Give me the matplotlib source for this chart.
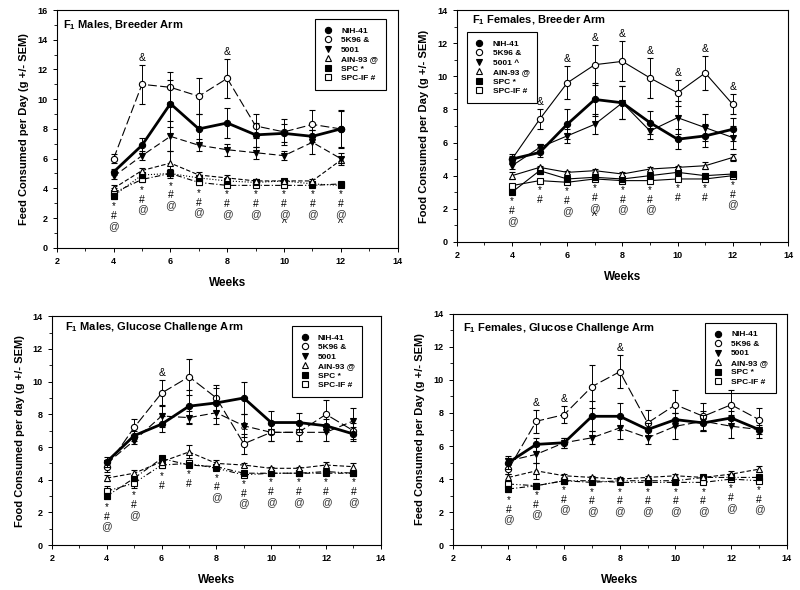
import matplotlib.pyplot as plt
import numpy as np
from matplotlib.lines import Line2D

plt.rcParams['font.family'] = ['Liberation Sans', 'DejaVu Sans']
plt.rcParams['font.weight'] = 'bold'
plt.rcParams['mathtext.fontset'] = 'custom'
plt.rcParams['mathtext.rm'] = 'Liberation Sans:bold'
plt.rcParams['mathtext.bf'] = 'Liberation Sans:bold'

# ---- F1 males, breeder arm (weeks 4-12) ----
mb_weeks = [4, 5, 6, 7, 8, 9, 10, 11, 12]
mb_nih = [5.1, 6.9, 9.7, 8.0, 8.4, 7.6, 7.7, 7.5, 8.0]
mb_nih_se = [0.2, 0.5, 1.6, 1.0, 1.0, 0.8, 0.6, 0.4, 1.2]
mb_k96 = [6.0, 11.0, 10.8, 10.2, 11.4, 8.2, 7.8, 8.3, 8.0]
mb_k96_se = [0.3, 1.3, 1.0, 1.2, 1.3, 0.8, 0.9, 1.0, 1.3]
mb_5001 = [4.8, 6.2, 7.5, 6.9, 6.6, 6.4, 6.2, 7.1, 6.0]
mb_5001_se = [0.2, 0.3, 1.0, 0.4, 0.4, 0.4, 0.3, 0.8, 0.4]
mb_ain = [4.0, 5.2, 5.7, 4.9, 4.7, 4.5, 4.5, 4.5, 5.9]
mb_ain_se = [0.2, 0.2, 0.8, 0.2, 0.2, 0.1, 0.1, 0.1, 0.2]
mb_spc = [3.5, 4.9, 5.0, 4.7, 4.5, 4.4, 4.5, 4.3, 4.2]
mb_spc_se = [0.2, 0.2, 0.2, 0.2, 0.1, 0.1, 0.1, 0.1, 0.1]
mb_spcif = [3.7, 4.6, 5.0, 4.4, 4.2, 4.2, 4.2, 4.2, 4.3]
mb_spcif_se = [0.3, 0.2, 0.3, 0.2, 0.1, 0.1, 0.1, 0.1, 0.1]
mb_marks = ['*#@', '*#@', '*#@', '*#@', '*#@', '*#@', '*#@^', '*#@', '*#@^']
mb_amp = [5, 8]

# ---- F1 females, breeder arm (weeks 4-12) ----
fb_weeks = [4, 5, 6, 7, 8, 9, 10, 11, 12]
fb_nih = [5.0, 5.4, 7.1, 8.6, 8.4, 7.2, 6.2, 6.4, 6.8]
fb_nih_se = [0.2, 0.3, 0.9, 1.0, 1.0, 0.7, 0.6, 0.7, 0.7]
fb_k96 = [5.0, 7.4, 9.6, 10.7, 10.9, 9.9, 9.0, 10.2, 8.3]
fb_k96_se = [0.3, 0.6, 1.0, 1.2, 1.2, 1.2, 0.8, 1.0, 0.6]
fb_5001 = [4.6, 5.7, 6.4, 7.1, 8.4, 6.7, 7.5, 6.9, 6.3]
fb_5001_se = [0.2, 0.2, 0.4, 0.6, 1.0, 0.5, 1.0, 0.8, 0.7]
fb_ain = [4.0, 4.5, 4.2, 4.3, 4.1, 4.4, 4.5, 4.6, 5.1]
fb_ain_se = [0.2, 0.1, 0.1, 0.1, 0.1, 0.1, 0.1, 0.2, 0.2]
fb_spc = [3.0, 4.3, 3.8, 3.9, 3.8, 4.0, 4.2, 4.0, 4.1]
fb_spc_se = [0.1, 0.2, 0.1, 0.1, 0.1, 0.1, 0.1, 0.1, 0.1]
fb_spcif = [3.4, 3.7, 3.6, 3.8, 3.7, 3.7, 3.8, 3.8, 4.0]
fb_spcif_se = [0.1, 0.1, 0.1, 0.1, 0.1, 0.1, 0.1, 0.1, 0.1]
fb_marks = ['*#@', '*#', '*#@', '*#@^', '*#@', '*#@', '*#', '*#', '*#@']
fb_amp = [5, 6, 7, 8, 9, 10, 11, 12]

# ---- F1 males, glucose challenge arm (weeks 4-13) ----
mg_weeks = [4, 5, 6, 7, 8, 9, 10, 11, 12, 13]
mg_nih = [5.1, 6.7, 7.4, 8.5, 8.7, 9.0, 7.5, 7.5, 7.3, 6.8]
mg_nih_se = [0.3, 0.3, 0.5, 1.0, 0.9, 1.0, 0.7, 0.6, 0.4, 0.4]
mg_k96 = [4.8, 7.2, 9.3, 10.3, 9.0, 6.2, 6.9, 6.9, 8.0, 7.0]
mg_k96_se = [0.3, 0.5, 0.8, 1.1, 0.8, 0.6, 0.5, 0.5, 0.9, 0.5]
mg_5001 = [5.0, 6.4, 7.9, 7.8, 8.1, 7.3, 6.9, 6.9, 6.9, 7.6]
mg_5001_se = [0.2, 0.2, 0.7, 0.4, 0.7, 0.7, 0.5, 0.5, 0.5, 0.8]
mg_ain = [4.1, 4.4, 5.1, 5.7, 5.0, 4.9, 4.7, 4.7, 4.9, 4.8]
mg_ain_se = [0.2, 0.2, 0.2, 0.4, 0.2, 0.1, 0.1, 0.1, 0.2, 0.2]
mg_spc = [3.0, 4.1, 5.3, 4.9, 4.8, 4.4, 4.4, 4.4, 4.4, 4.4]
mg_spc_se = [0.2, 0.2, 0.1, 0.1, 0.1, 0.1, 0.1, 0.1, 0.1, 0.1]
mg_spcif = [3.3, 3.8, 4.9, 5.0, 4.7, 4.3, 4.4, 4.4, 4.5, 4.4]
mg_spcif_se = [0.3, 0.3, 0.2, 0.2, 0.1, 0.1, 0.1, 0.1, 0.1, 0.1]
mg_marks = ['*#@', '*#@', '*#', '*#', '*#@', '*#@', '*#@', '*#@', '*#@', '*#@']
mg_amp = [6, 9]

# ---- F1 females, glucose challenge arm (weeks 4-13) ----
fg_weeks = [4, 5, 6, 7, 8, 9, 10, 11, 12, 13]
fg_nih = [5.0, 6.1, 6.2, 7.8, 7.8, 7.0, 7.6, 7.4, 7.7, 7.0]
fg_nih_se = [0.4, 0.4, 0.3, 0.9, 0.8, 0.4, 0.4, 0.5, 0.4, 0.3]
fg_k96 = [4.6, 7.5, 7.9, 9.6, 10.5, 7.4, 8.5, 7.8, 8.5, 7.6]
fg_k96_se = [0.3, 0.7, 0.5, 1.3, 1.0, 0.8, 0.9, 0.8, 0.9, 0.7]
fg_5001 = [5.1, 5.5, 6.2, 6.5, 7.1, 6.5, 7.2, 7.5, 7.2, 7.0]
fg_5001_se = [0.2, 0.5, 0.3, 0.4, 0.7, 0.4, 0.8, 0.6, 0.7, 0.5]
fg_ain = [4.1, 4.5, 4.2, 4.1, 4.0, 4.1, 4.2, 4.1, 4.3, 4.6]
fg_ain_se = [0.2, 0.5, 0.1, 0.1, 0.1, 0.1, 0.1, 0.1, 0.2, 0.2]
fg_spc = [3.4, 3.6, 3.9, 3.8, 3.9, 3.9, 3.9, 4.1, 4.1, 4.1]
fg_spc_se = [0.2, 0.1, 0.1, 0.1, 0.1, 0.1, 0.1, 0.1, 0.1, 0.1]
fg_spcif = [3.7, 3.6, 3.9, 3.9, 3.8, 3.8, 3.8, 3.8, 4.0, 3.9]
fg_spcif_se = [0.2, 0.1, 0.1, 0.1, 0.1, 0.1, 0.1, 0.1, 0.1, 0.1]
fg_marks = ['*#@'] * 10
fg_amp = [5, 6, 8]

diet_labels = ['NIH-41', '5K96 &', '5001', 'AIN-93 @', 'SPC *', 'SPC-IF #']
markers = ['o', 'o', 'v', '^', 's', 's']
faces = ['black', 'white', 'black', 'white', 'black', 'white']

dashed_styles = ['-', (0, (8, 3)), (0, (6, 3)), (0, (4, 2)), ':', (0, (5, 2, 1, 2))]
glucose_styles = ['-', (0, (9, 3)), (0, (7, 3)), (0, (4, 2)), (0, (5, 2, 1, 2)), (0, (5, 2, 1, 2, 1, 2))]
solid_styles = ['-'] * 6


def panel(ax, weeks, series, errs, styles, title, ylabel, ymax, labels, marks, amp,
          leg_loc, leg_anchor, title_xy):
    weeks = np.array(weeks)
    for i, (y, e) in enumerate(zip(series, errs)):
        ax.errorbar(weeks, y, yerr=e, color='black', ls=styles[i],
                    lw=2.0 if i == 0 else 0.8, marker=markers[i], mfc=faces[i],
                    mec='black', mew=0.8, ms=4.5, capsize=2.5, elinewidth=0.7,
                    capthick=0.7, zorder=3 + (6 - i))
    lows = np.min(np.array(series) - np.array(errs), axis=0)
    for w, lo, m in zip(weeks, lows, marks):
        for j, ch in enumerate(m):
            ax.annotate(ch, (w, lo), xytext=(0, -5.5 - 7 * j), textcoords='offset points',
                        ha='center', va='center', fontsize=7.5 if ch != '*' else 7,
                        fontweight='normal', color='#333333' if ch == '@' else 'black')
    k96 = np.array(series[1]) + np.array(errs[1])
    for w in amp:
        idx = list(weeks).index(w)
        ax.annotate('&', (w, k96[idx]), xytext=(0, 1.5), textcoords='offset points',
                    ha='center', va='bottom', fontsize=7.5, fontweight='normal')

    ax.set_xlim(2, 14)
    ax.set_ylim(0, ymax)
    ax.set_xticks(np.arange(2, 15, 2))
    ax.set_yticks(np.arange(0, ymax + 1, 2))
    ax.set_xticks(np.arange(3, 14, 2), minor=True)
    ax.set_yticks(np.arange(1, ymax, 2), minor=True)
    ax.tick_params(which='major', direction='out', length=3, width=0.7, labelsize=6.5)
    ax.tick_params(which='minor', direction='out', length=2, width=0.6)
    for s in ax.spines.values():
        s.set_linewidth(0.8)
    ax.set_xlabel('Weeks', fontsize=8.5, fontweight='bold', labelpad=8)
    ax.set_ylabel(ylabel, fontsize=8, fontweight='bold', labelpad=6)
    ax.text(title_xy[0], title_xy[1], title, transform=ax.transAxes, fontsize=8,
            fontweight='bold', ha='left', va='center')

    handles = [Line2D([], [], ls='none', marker=markers[i], mfc=faces[i], mec='black',
                      mew=0.8, ms=4.5) for i in range(6)]
    leg = ax.legend(handles, labels, loc=leg_loc, bbox_to_anchor=leg_anchor,
                    fancybox=False, edgecolor='black', framealpha=1,
                    prop={'size': 6, 'weight': 'bold'}, handlelength=1.2,
                    handletextpad=1.0, borderpad=0.9, labelspacing=0.2)
    leg.get_frame().set_linewidth(0.8)


fig = plt.figure(figsize=(8, 5.9), dpi=100)

ax1 = fig.add_axes([0.071, 0.580, 0.426, 0.403])
panel(ax1, mb_weeks,
      [mb_nih, mb_k96, mb_5001, mb_ain, mb_spc, mb_spcif],
      [mb_nih_se, mb_k96_se, mb_5001_se, mb_ain_se, mb_spc_se, mb_spcif_se],
      dashed_styles, r'F$_1$ Males, Breeder Arm', 'Feed Consumed per Day (g +/- SEM)',
      16, diet_labels, mb_marks, mb_amp, 'upper right', (0.977, 0.979), (0.018, 0.937))

ax2 = fig.add_axes([0.571, 0.590, 0.414, 0.393])
panel(ax2, fb_weeks,
      [fb_nih, fb_k96, fb_5001, fb_ain, fb_spc, fb_spcif],
      [fb_nih_se, fb_k96_se, fb_5001_se, fb_ain_se, fb_spc_se, fb_spcif_se],
      solid_styles, r'F$_1$ Females, Breeder Arm', 'Food Consumed per Day (g +/- SEM)',
      14, ['NIH-41', '5K96 &', '5001 ^', 'AIN-93 @', 'SPC *', 'SPC-IF #'],
      fb_marks, fb_amp, 'upper left', (0.018, 0.922), (0.045, 0.957))

ax3 = fig.add_axes([0.065, 0.076, 0.411, 0.388])
panel(ax3, mg_weeks,
      [mg_nih, mg_k96, mg_5001, mg_ain, mg_spc, mg_spcif],
      [mg_nih_se, mg_k96_se, mg_5001_se, mg_ain_se, mg_spc_se, mg_spcif_se],
      glucose_styles, r'F$_1$ Males, Glucose Challenge Arm', 'Food Consumed per day (g +/- SEM)',
      14, diet_labels, mg_marks, mg_amp, 'upper right', (0.957, 0.974), (0.04, 0.952))

ax4 = fig.add_axes([0.566, 0.076, 0.4175, 0.392])
panel(ax4, fg_weeks,
      [fg_nih, fg_k96, fg_5001, fg_ain, fg_spc, fg_spcif],
      [fg_nih_se, fg_k96_se, fg_5001_se, fg_ain_se, fg_spc_se, fg_spcif_se],
      glucose_styles, r'F$_1$ Females, Glucose Challenge Arm', 'Feed Consumed per Day (g +/- SEM)',
      14, diet_labels, fg_marks, fg_amp, 'upper right', (0.979, 0.978), (0.03, 0.939))

fig.savefig('out.png', dpi=100)
